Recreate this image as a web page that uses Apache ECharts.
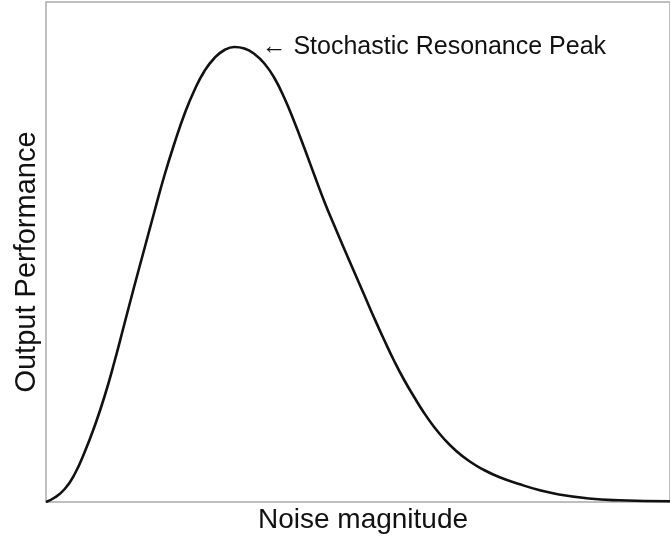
<!DOCTYPE html>
<html>
<head>
<meta charset="utf-8">
<script src="https://cdn.jsdelivr.net/npm/echarts@6/dist/echarts.min.js"></script>
<style>
*{margin:0;padding:0;}
body{background:#fff;}
#chart{width:670px;height:539px;}
</style>
</head>
<body>
<div id="chart"></div>
<script>
// noise magnitude (0-10) and output performance (0-1)
var noise = [0, 0.14, 0.30, 0.46, 0.62, 0.78, 0.94, 1.10, 1.26, 1.42, 1.58, 1.74, 1.90, 2.06, 2.22, 2.38,
  2.54, 2.70, 2.86, 3.02, 3.18, 3.34, 3.50, 3.66, 3.82, 3.98, 4.14, 4.30, 4.46, 4.62, 4.78, 4.94,
  5.10, 5.26, 5.42, 5.58, 5.74, 5.90, 6.06, 6.22, 6.38, 6.54, 6.78, 7.02, 7.26, 7.58, 7.90, 8.22,
  8.70, 9.18, 10.0]
var performance = [0, 0.009, 0.026, 0.056, 0.100, 0.152, 0.212, 0.282, 0.358, 0.434, 0.508, 0.582, 0.654, 0.718, 0.776, 0.824,
  0.862, 0.888, 0.904, 0.910, 0.907, 0.896, 0.877, 0.848, 0.808, 0.760, 0.708, 0.654, 0.601, 0.553, 0.506, 0.460,
  0.414, 0.368, 0.324, 0.282, 0.244, 0.210, 0.178, 0.150, 0.126, 0.106, 0.082, 0.064, 0.050, 0.036, 0.024, 0.015,
  0.007, 0.0034, 0.0014]

var font = "'Liberation Sans', Arial, Helvetica, sans-serif"

var chart = echarts.init(document.getElementById('chart'))
var option = {
  animation: false,
  grid: {
    left: 46,
    top: 2,
    right: -1,
    bottom: 37,
    show: true,
    borderColor: '#aaa',
    borderWidth: 1.5
  },
  xAxis: {
    type: 'value',
    min: 0,
    max: 10,
    axisLine: {show: false},
    axisTick: {show: false},
    axisLabel: {show: false},
    splitLine: {show: false}
  },
  yAxis: {
    type: 'value',
    min: 0,
    max: 1,
    axisLine: {show: false},
    axisTick: {show: false},
    axisLabel: {show: false},
    splitLine: {show: false}
  },
  graphic: [
    {
      type: 'text',
      x: 363,
      y: 506,
      style: {text: 'Noise magnitude', font: '28px ' + font, fill: '#111', align: 'center', verticalAlign: 'top'}
    },
    {
      type: 'text',
      x: 12,
      y: 262,
      rotation: Math.PI / 2,
      style: {text: 'Output Performance', font: '29px ' + font, fill: '#111', align: 'center', verticalAlign: 'top'}
    }
  ],
  series: [
    {
      type: 'line',
      data: noise.map(function (x, i) { return [x, performance[i]] }),
      smooth: 0.5,
      showSymbol: false,
      lineStyle: {color: '#111', width: 2.6},
      markPoint: {
        symbol: 'circle',
        symbolSize: 0,
        data: [{type: 'max'}],
        label: {
          show: true,
          position: 'right',
          distance: 27,
          formatter: '← Stochastic Resonance Peak',
          color: '#111',
          fontSize: 25,
          fontFamily: font
        }
      }
    }
  ]
}
chart.setOption(option)
</script>
</body>
</html>
